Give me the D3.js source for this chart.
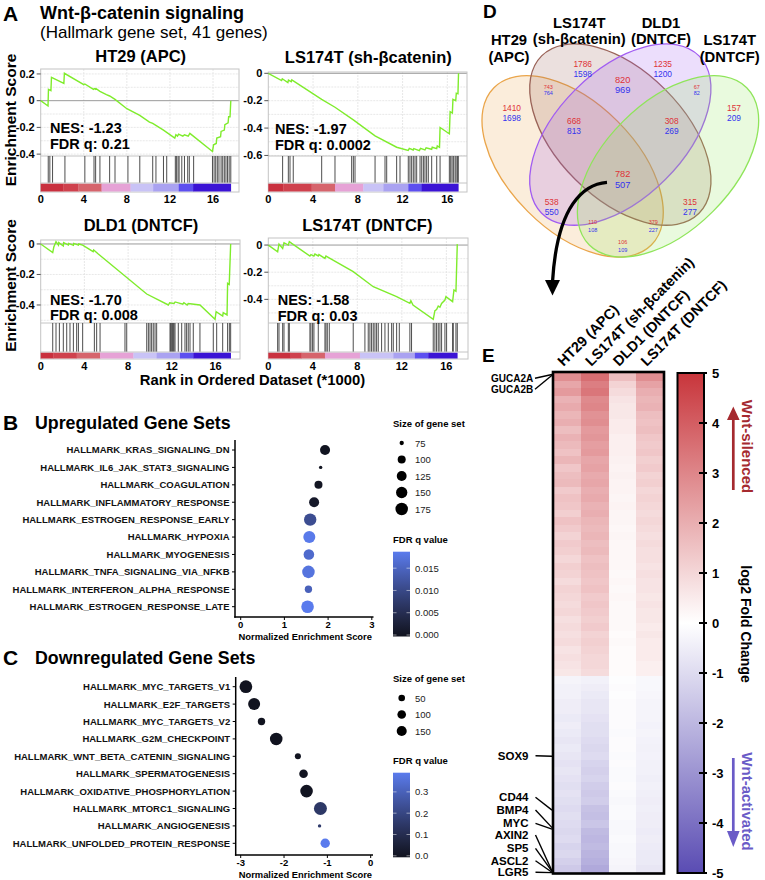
<!DOCTYPE html>
<html><head><meta charset="utf-8">
<script src="https://cdn.jsdelivr.net/npm/d3@7/dist/d3.min.js"></script>
<style>
html,body{margin:0;padding:0;background:#fff;}
svg{display:block;font-family:"Liberation Sans",Arial,Helvetica,sans-serif;}
</style></head><body>
<svg id="fig" width="765" height="880" viewBox="0 0 765 880"></svg>
<script>
// ================= DATA =================
// ---- Panel A : GSEA running enrichment score (rank in thousands, ES) ----
const gseaTitles = ["HT29 (APC)", "LS174T (sh-βcatenin)", "DLD1 (DNTCF)", "LS174T (DNTCF)"];
const gseaNES = ["-1.23", "-1.97", "-1.70", "-1.58"];
const gseaFDR = ["0.21", "0.0002", "0.008", "0.03"];
const rankTicks = [0, 4, 8, 12, 16];
const esTicksHT29 = [0.2, 0, -0.2, -0.4];
const esTicksLSsh = [0, -0.2, -0.4, -0.6];
const esTicksDLD1 = [0, -0.2, -0.4];
const esTicksLSdn = [0, -0.2, -0.4];

const esHT29 = [[0,0],[0.68,-0.04],[0.72,0.085],[0.95,0.075],[1.0,0.175],[2.15,0.13],[2.2,0.205],[4.0,0.12],[4.1,0.125],[4.9,0.085],[5.0,0.09],[5.1,0.085],[5.15,0.09],[5.5,0.07],[6.1,0.045],[6.4,0.035],[6.9,0.01],[8.0,-0.06],[9.2,-0.11],[10.1,-0.16],[10.4,-0.17],[11.4,-0.22],[12.45,-0.28],[12.55,-0.255],[12.7,-0.265],[12.8,-0.25],[13.2,-0.265],[13.35,-0.255],[13.7,-0.265],[13.85,-0.245],[15.95,-0.38],[16.05,-0.33],[16.3,-0.32],[16.35,-0.28],[16.7,-0.27],[16.75,-0.23],[17.05,-0.22],[17.1,-0.18],[17.4,-0.165],[17.45,-0.12],[17.58,-0.12],[17.65,0]];
const esLSsh = [[0,0],[1.19,-0.053],[1.25,-0.04],[1.75,-0.068],[1.8,-0.05],[2.05,-0.061],[2.1,-0.048],[4.77,-0.19],[5.96,-0.248],[7.6,-0.34],[9.54,-0.457],[11.47,-0.54],[12.5,-0.564],[12.6,-0.548],[12.95,-0.56],[13.0,-0.55],[13.5,-0.565],[13.6,-0.548],[14.0,-0.56],[14.1,-0.545],[14.6,-0.555],[14.65,-0.54],[15.05,-0.55],[15.1,-0.53],[15.3,-0.54],[15.35,-0.396],[16.18,-0.442],[16.25,-0.28],[16.45,-0.29],[16.5,-0.19],[16.75,-0.2],[16.8,-0.145],[16.95,-0.15],[17.0,0]];
const esDLD1 = [[0,0],[1.1,-0.057],[1.2,-0.02],[1.4,0.015],[1.62,-0.007],[1.65,0.009],[2.07,-0.013],[2.1,0.009],[2.53,-0.007],[2.56,0.004],[2.99,-0.009],[3.02,0.004],[3.45,-0.007],[3.48,0],[3.84,-0.007],[4.8,-0.05],[4.85,-0.04],[5.27,-0.066],[9.7,-0.328],[11.68,-0.4],[11.8,-0.385],[12.2,-0.39],[12.3,-0.38],[13.0,-0.395],[13.1,-0.385],[13.4,-0.4],[13.5,-0.39],[14.57,-0.4],[15.95,-0.494],[16.05,-0.444],[16.65,-0.472],[16.7,-0.45],[17.05,-0.465],[17.1,-0.258],[17.25,-0.265],[17.38,0]];
const esLSdn = [[0,0],[0.84,-0.049],[0.96,0.007],[1.29,-0.025],[1.41,0.017],[1.8,0],[1.89,0.025],[2.1,0.012],[3.74,-0.081],[3.83,-0.071],[4.1,-0.081],[4.19,-0.066],[4.49,-0.08],[4.55,-0.07],[5.09,-0.098],[5.18,-0.081],[5.54,-0.098],[7.63,-0.196],[9.43,-0.307],[11.53,-0.38],[12.72,-0.429],[12.81,-0.41],[13.0,-0.442],[14.82,-0.547],[14.97,-0.483],[15.12,-0.475],[15.27,-0.449],[15.42,-0.458],[15.57,-0.43],[15.87,-0.405],[15.96,-0.38],[16.56,-0.417],[16.68,-0.33],[16.86,-0.34],[16.98,0.007]];

const hitsHT29 = [0.7,0.85,1.1,2.25,4.1,4.95,5.1,5.5,6.4,6.9,8.1,9.2,10.4,10.7,11.4,11.7,12.5,12.6,12.75,12.85,13.1,13.35,13.65,13.8,14.2,15.95,16.1,16.25,16.4,16.55,16.75,16.9,17.05,17.2,17.35,17.5,17.65];
const hitsLSsh = [1.28,1.79,1.94,2.23,4.77,5.96,7.45,7.6,7.75,9.54,10.43,10.58,11.47,11.77,12.51,12.66,12.81,12.96,13.11,13.26,13.56,13.71,13.86,14.0,14.15,14.3,14.6,15.05,15.35,16.18,16.3,16.42,16.54,16.69,16.78,16.9,16.98];
const hitsDLD1 = [1.1,1.4,1.71,2.07,2.38,2.68,2.99,3.29,3.45,3.84,4.91,5.12,5.43,7.71,7.87,9.7,9.85,10.0,10.15,10.3,10.46,10.61,11.83,11.89,11.98,12.07,12.13,12.2,12.29,12.59,12.9,13.2,13.35,13.5,13.66,13.96,14.57,15.79,16.1,16.65,17.1,17.26,17.38];
const hitsLSdn = [0.84,0.96,1.29,1.41,1.8,1.89,3.74,3.83,3.98,4.1,4.49,5.09,5.18,5.3,5.48,7.63,8.68,8.98,9.13,9.28,9.43,9.58,9.73,9.88,10.18,10.48,10.78,11.08,11.23,11.53,11.77,12.72,12.87,14.82,14.97,15.12,15.27,15.42,15.57,15.87,16.02,16.56,16.62,16.86,16.98];

// ranked-list colour bar block edges (thousands)
const barEdgesHT29 = [0,2.1,3.49,5.65,8.34,10.44,12.82,14.15,17.65];
const barEdgesLSsh = [0,1.34,3.87,5.96,8.49,10.28,12.51,13.71,16.98];
const barEdgesDLD1 = [0,1.16,3.29,5.43,8.48,10.61,12.74,13.96,17.38];
const barEdgesLSdn = [0,1.95,2.99,5.09,8.23,11.23,13.17,14.37,16.98];
const barColors = ["#c9303e","#cf414d","#d6646c","#e6a2d6","#c9c3f6","#aaa2f1","#5d4ff0","#3b13d5"];

// ---- Panel B : upregulated gene sets ----
const upSets = ["HALLMARK_KRAS_SIGNALING_DN","HALLMARK_IL6_JAK_STAT3_SIGNALING","HALLMARK_COAGULATION","HALLMARK_INFLAMMATORY_RESPONSE","HALLMARK_ESTROGEN_RESPONSE_EARLY","HALLMARK_HYPOXIA","HALLMARK_MYOGENESIS","HALLMARK_TNFA_SIGNALING_VIA_NFKB","HALLMARK_INTERFERON_ALPHA_RESPONSE","HALLMARK_ESTROGEN_RESPONSE_LATE"];
const upNES = [1.93,1.83,1.78,1.68,1.59,1.57,1.56,1.55,1.55,1.53];
const upSize = [127,74,100,127,172,164,137,175,93,177];
const upFDR = [0.0001,0.0003,0.0005,0.0012,0.011,0.0185,0.016,0.0175,0.0145,0.0187];
const upXTicks = [0,1,2,3];
const upSizeBreaks = [75,100,125,150,175];
const upFdrBreaks = [0.000,0.005,0.010,0.015];

// ---- Panel C : downregulated gene sets ----
const downSets = ["HALLMARK_MYC_TARGETS_V1","HALLMARK_E2F_TARGETS","HALLMARK_MYC_TARGETS_V2","HALLMARK_G2M_CHECKPOINT","HALLMARK_WNT_BETA_CATENIN_SIGNALING","HALLMARK_SPERMATOGENESIS","HALLMARK_OXIDATIVE_PHOSPHORYLATION","HALLMARK_MTORC1_SIGNALING","HALLMARK_ANGIOGENESIS","HALLMARK_UNFOLDED_PROTEIN_RESPONSE"];
const downNES = [-2.88,-2.69,-2.52,-2.18,-1.68,-1.55,-1.48,-1.16,-1.18,-1.05];
const downSize = [275,237,67,265,41,99,270,290,20,125];
const downFDR = [0,0,0.0005,0,0.002,0.004,0.004,0.15,0.16,0.39];
const downXTicks = [-3,-2,-1,0];
const downSizeBreaks = [50,100,150];
const downFdrBreaks = [0.0,0.1,0.2,0.3];

// ---- Panel D : Venn ----
const vennSetNames = [["HT29","(APC)"],["LS174T","(sh-βcatenin)"],["DLD1","(DNTCF)"],["LS174T","(DNTCF)"]];
const vennRed  = [1410,1786,1235,157,743,67,820,668,308,782,538,315,110,379,106];
const vennBlue = [1698,1598,1200,209,764,82,969,813,269,507,550,277,108,227,109];

// ---- Panel E : heatmap (log2 fold change, bands of genes top->bottom) ----
const heatCols = ["HT29 (APC)","LS174T (sh-βcatenin)","DLD1 (DNTCF)","LS174T (DNTCF)"];
const nSilenced = 782, nActivated = 507;
const heatUp = [
 [2.8,2.2,2.5,1.9,2.1,1.8,2.0,1.6,1.9,1.7,1.5,1.8,1.4,1.6,1.7,1.3,1.5,1.4,1.2,1.5,1.3,1.1,1.3,1.2,1.0,1.2,1.1,0.9,1.1,1.0,0.9,1.0,0.8,0.9,0.8,0.9,0.7,0.8,0.7,0.6],
 [3.6,3.2,3.4,2.9,3.0,2.7,2.8,2.5,2.6,2.4,2.5,2.2,2.3,2.1,2.2,2.0,2.1,1.9,2.0,1.8,1.7,1.8,1.6,1.7,1.5,1.6,1.5,1.4,1.5,1.3,1.4,1.3,1.2,1.3,1.1,1.2,1.1,1.0,1.0,0.9],
 [1.6,1.1,0.9,0.7,0.6,0.6,0.5,0.5,0.4,0.4,0.4,0.35,0.3,0.35,0.3,0.3,0.25,0.3,0.25,0.25,0.2,0.25,0.2,0.2,0.2,0.2,0.15,0.2,0.15,0.2,0.15,0.15,0.15,0.15,0.1,0.15,0.1,0.1,0.1,0.1],
 [2.8,2.3,2.0,1.8,1.9,1.6,1.5,1.6,1.4,1.3,1.4,1.2,1.3,1.1,1.2,1.0,1.1,1.0,0.9,1.0,0.9,0.8,0.9,0.8,0.8,0.7,0.8,0.7,0.7,0.6,0.7,0.6,0.6,0.5,0.6,0.5,0.5,0.5,0.4,0.4]
];
const heatDown = [
 [-0.3,-0.4,-0.4,-0.5,-0.5,-0.6,-0.5,-0.6,-0.7,-0.6,-0.7,-0.8,-0.7,-0.8,-0.9,-0.8,-0.9,-1.0,-0.9,-1.0,-1.1,-1.0,-1.2,-1.1,-1.3,-1.5],
 [-0.4,-0.5,-0.6,-0.7,-0.7,-0.8,-0.9,-0.9,-1.0,-1.1,-1.0,-1.2,-1.3,-1.2,-1.4,-1.5,-1.4,-1.7,-1.8,-1.6,-1.9,-2.0,-1.9,-2.1,-2.2,-2.4],
 [-0.05,-0.1,-0.05,-0.1,-0.1,-0.1,-0.1,-0.15,-0.1,-0.1,-0.15,-0.1,-0.15,-0.15,-0.1,-0.15,-0.2,-0.15,-0.15,-0.2,-0.2,-0.15,-0.2,-0.2,-0.25,-0.3],
 [-0.2,-0.2,-0.25,-0.3,-0.3,-0.3,-0.35,-0.3,-0.35,-0.4,-0.35,-0.4,-0.4,-0.45,-0.4,-0.45,-0.5,-0.45,-0.5,-0.5,-0.55,-0.5,-0.55,-0.6,-0.6,-0.7]
];
const heatTicks = [5,4,3,2,1,0,-1,-2,-3,-4,-5];
const markedGenes = ["GUCA2A","GUCA2B","SOX9","CD44","BMP4","MYC","AXIN2","SP5","ASCL2","LGR5"];
const markedRows  = [4,6,988,1127,1172,1176,1284,1285,1287,1288];

// ================= DRAWING =================
const svg = d3.select("#fig");
function T(parent, x, y, str, size, weight, anchor, fill) {
  return parent.append("text").attr("x", x).attr("y", y)
    .attr("font-size", size).attr("font-weight", weight || "normal")
    .attr("text-anchor", anchor || "start").attr("fill", fill || "#000").text(str);
}

// ---------- Panel A ----------
const A = svg.append("g");
T(A, 3, 21, "A", 21, "bold");
T(A, 40, 19, "Wnt-β-catenin signaling", 18, "bold");
T(A, 40, 38, "(Hallmark gene set, 41 genes)", 17, "normal");
[[120],[285.5]].forEach(([cy]) => {
  A.append("text").attr("transform", `translate(16,${cy}) rotate(-90)`)
    .attr("text-anchor","middle").attr("font-size",15.5).attr("font-weight","bold").text("Enrichment Score");
});
T(A, 252.5, 385, "Rank in Ordered Dataset (*1000)", 14.8, "bold", "middle");

const gseaLayouts = [
 {x0:40.7, x1:239, pxK:10.77, esTop:69, esBot:156, yTopVal:0.237, yBotVal:-0.414, hitBot:183, barBot:192, tickY:203, titleX:140.7, titleY:62, nesX:50, nesY:133, fdrY:149},
 {x0:268.3, x1:467, pxK:11.19, esTop:72, esBot:156, yTopVal:0.0095, yBotVal:-0.604, hitBot:183, barBot:192, tickY:203, titleX:368.3, titleY:63, nesX:275, nesY:134, fdrY:150},
 {x0:40.7, x1:240, pxK:10.93, esTop:240, esBot:323, yTopVal:0.026, yBotVal:-0.518, hitBot:352, barBot:359, tickY:370, titleX:141, titleY:231, nesX:50, nesY:305, fdrY:320},
 {x0:268.3, x1:468, pxK:11.13, esTop:238, esBot:323, yTopVal:0.052, yBotVal:-0.574, hitBot:352, barBot:359, tickY:370, titleX:367.3, titleY:231, nesX:277.7, nesY:305, fdrY:321}
];
const gseaData = [
 {curve:esHT29, hits:hitsHT29, edges:barEdgesHT29, ticks:esTicksHT29},
 {curve:esLSsh, hits:hitsLSsh, edges:barEdgesLSsh, ticks:esTicksLSsh},
 {curve:esDLD1, hits:hitsDLD1, edges:barEdgesDLD1, ticks:esTicksDLD1},
 {curve:esLSdn, hits:hitsLSdn, edges:barEdgesLSdn, ticks:esTicksLSdn}
];
gseaData.forEach((d, i) => {
  const L = gseaLayouts[i];
  const g = A.append("g");
  const x = d3.scaleLinear().domain([0, (L.x1 - L.x0) / L.pxK]).range([L.x0, L.x1]);
  const y = d3.scaleLinear().domain([L.yBotVal, L.yTopVal]).range([L.esBot, L.esTop]);
  const hg = d3.range(Math.ceil(L.yBotVal*10), Math.floor(L.yTopVal*10)+1).map(v => v/10).filter(v => v !== 0);
  g.selectAll(".hg").data(hg).join("line").attr("x1", L.x0).attr("x2", L.x1)
    .attr("y1", v => y(v)).attr("y2", v => y(v)).attr("stroke", "#e2e2e2").attr("stroke-width", 0.8).attr("stroke-dasharray","2,1");
  g.selectAll(".vg").data(rankTicks.slice(1)).join("line").attr("y1", L.esTop).attr("y2", L.esBot)
    .attr("x1", v => x(v)).attr("x2", v => x(v)).attr("stroke", "#e2e2e2").attr("stroke-width", 0.8).attr("stroke-dasharray","2,1");
  g.append("line").attr("x1", L.x0).attr("x2", L.x1).attr("y1", y(0)).attr("y2", y(0)).attr("stroke", "#9a9a9a").attr("stroke-width", 1);
  g.append("rect").attr("x", L.x0).attr("y", L.esTop).attr("width", L.x1 - L.x0).attr("height", L.barBot - L.esTop)
    .attr("fill", "none").attr("stroke", "#c4c4c4").attr("stroke-width", 1);
  g.append("line").attr("x1", L.x0).attr("x2", L.x1).attr("y1", L.esBot).attr("y2", L.esBot).attr("stroke", "#c4c4c4");
  g.selectAll(".hit").data(d.hits).join("line")
    .attr("x1", v => x(v)).attr("x2", v => x(v)).attr("y1", L.esBot).attr("y2", L.hitBot)
    .attr("stroke", "#3a3a3a").attr("stroke-width", 0.9);
  const blocks = d.edges.slice(0, -1).map((e, k) => [e, d.edges[k+1], barColors[k]]);
  g.selectAll(".blk").data(blocks).join("rect")
    .attr("x", b => x(b[0])).attr("width", b => x(b[1]) - x(b[0]) + 0.3)
    .attr("y", L.hitBot + 0.5).attr("height", L.barBot - L.hitBot - 1).attr("fill", b => b[2]);
  g.append("line").attr("x1", L.x0).attr("x2", L.x1).attr("y1", L.hitBot).attr("y2", L.hitBot).attr("stroke", "#c4c4c4");
  g.append("path").datum(d.curve)
    .attr("d", d3.line().x(p => x(p[0])).y(p => y(p[1])))
    .attr("fill", "none").attr("stroke", "#7fec2c").attr("stroke-width", 1.4);
  g.selectAll(".yt").data(d.ticks).join("line").attr("x1", L.x0 - 4).attr("x2", L.x0)
    .attr("y1", v => y(v)).attr("y2", v => y(v)).attr("stroke", "#555");
  g.selectAll(".yl").data(d.ticks).join("text").attr("x", L.x0 - 6).attr("y", v => y(v) + 3.8)
    .attr("text-anchor", "end").attr("font-size", 11).attr("font-weight", "bold")
    .text(v => v === 0 ? "0" : v.toFixed(1));
  g.selectAll(".xl").data(rankTicks).join("text").attr("x", v => x(v)).attr("y", L.tickY)
    .attr("text-anchor", "middle").attr("font-size", 11).attr("font-weight", "bold").text(v => v);
  T(g, L.titleX, L.titleY, gseaTitles[i], 16.5, "bold", "middle");
  T(g, L.nesX, L.nesY, "NES: " + gseaNES[i], 14.5, "bold");
  T(g, L.nesX, L.fdrY, "FDR q: " + gseaFDR[i], 14.5, "bold");
});

// ---------- Panels B & C ----------
function dotPanel(cfg) {
  const g = svg.append("g");
  T(g, 3, cfg.titleY + 1, cfg.letter, 21, "bold");
  T(g, 35, cfg.titleY, cfg.title, 17.8, "bold");
  const x = d3.scaleLinear().domain(cfg.xDom).range(cfg.xRange);
  const y = d3.scalePoint().domain(cfg.sets).range([cfg.row0, cfg.rowN]);
  const fdrMax = cfg.fdrMax;
  const col = d3.scaleLinear().domain([0, fdrMax]).range(["#11131f", "#5a7bed"]).interpolate(d3.interpolateLab);
  const nMin = d3.min(cfg.size), nMax = d3.max(cfg.size);
  const rLin = d3.scaleLinear().domain([0, 1]).range(cfg.rRange);
  const r = n => rLin(Math.sqrt(Math.max(0, (n - nMin) / (nMax - nMin))));
  g.append("line").attr("x1", cfg.axisX).attr("x2", cfg.axisX).attr("y1", cfg.axisTop).attr("y2", cfg.axisY + 0.75).attr("stroke", "#000").attr("stroke-width", 1.5);
  g.append("line").attr("x1", cfg.axisX - 0.75).attr("x2", cfg.axisRight).attr("y1", cfg.axisY).attr("y2", cfg.axisY).attr("stroke", "#000").attr("stroke-width", 1.5);
  g.selectAll(".yt").data(cfg.sets).join("line").attr("x1", cfg.axisX - 3).attr("x2", cfg.axisX)
    .attr("y1", s => y(s)).attr("y2", s => y(s)).attr("stroke", "#000").attr("stroke-width", 1);
  g.selectAll(".yl").data(cfg.sets).join("text").attr("x", cfg.axisX - 5.5).attr("y", s => y(s) + 3.4)
    .attr("text-anchor", "end").attr("font-size", 9.5).attr("font-weight", "bold").attr("fill", "#111").text(s => s);
  g.selectAll(".xt").data(cfg.xTicks).join("line").attr("x1", v => x(v)).attr("x2", v => x(v))
    .attr("y1", cfg.axisY).attr("y2", cfg.axisY + 3).attr("stroke", "#000").attr("stroke-width", 1);
  g.selectAll(".xl").data(cfg.xTicks).join("text").attr("x", v => x(v)).attr("y", cfg.axisY + 11)
    .attr("text-anchor", "middle").attr("font-size", 9.5).attr("font-weight", "bold").text(v => v);
  T(g, (cfg.axisX + cfg.axisRight) / 2 + 1, cfg.axisY + 22.5, "Normalized Enrichment Score", 9.4, "bold", "middle");
  const pts = cfg.sets.map((s, k) => ({s, nes: cfg.nes[k], n: cfg.size[k], q: cfg.fdr[k]}));
  g.selectAll(".dot").data(pts).join("circle").attr("cx", p => x(p.nes)).attr("cy", p => y(p.s))
    .attr("r", p => r(p.n)).attr("fill", p => col(p.q));
  const lx = 393;
  T(g, lx, cfg.sizeTitleY, "Size of gene set", 9.5, "bold");
  g.selectAll(".sl").data(cfg.sizeBreaks).join("circle").attr("cx", lx + 8.7).attr("cy", (v, k) => cfg.sizeTitleY + 16 + k * 16.5)
    .attr("r", v => r(v)).attr("fill", "#000");
  g.selectAll(".slt").data(cfg.sizeBreaks).join("text").attr("x", lx + 22).attr("y", (v, k) => cfg.sizeTitleY + 19.5 + k * 16.5)
    .attr("font-size", 9.5).attr("fill", "#222").text(v => v);
  T(g, lx, cfg.fdrTitleY, "FDR q value", 9.5, "bold");
  const gid = "grad" + cfg.letter;
  const defs = g.append("defs");
  const lg = defs.append("linearGradient").attr("id", gid).attr("x1", 0).attr("x2", 0).attr("y1", 1).attr("y2", 0);
  d3.range(0, 1.0001, 0.1).forEach(t => lg.append("stop").attr("offset", t).attr("stop-color", col(t * fdrMax)));
  const cy = d3.scaleLinear().domain([0, fdrMax]).range([cfg.barBot, cfg.barTop]);
  g.append("rect").attr("x", lx).attr("y", cfg.barTop).attr("width", 17).attr("height", cfg.barBot - cfg.barTop + 1.5).attr("fill", `url(#${gid})`);
  g.selectAll(".ft").data(cfg.fdrBreaks).join("g").each(function(v) {
    const s = d3.select(this);
    s.append("line").attr("x1", lx).attr("x2", lx + 3.5).attr("y1", cy(v)).attr("y2", cy(v)).attr("stroke", "#fff").attr("stroke-opacity", 0.5);
    s.append("line").attr("x1", lx + 13.5).attr("x2", lx + 17).attr("y1", cy(v)).attr("y2", cy(v)).attr("stroke", "#fff").attr("stroke-opacity", 0.5);
    s.append("text").attr("x", lx + 22).attr("y", cy(v) + 3.4).attr("font-size", 9.5).attr("fill", "#222").text(cfg.fmt(v));
  });
}
dotPanel({letter:"B", title:"Upregulated Gene Sets", titleY:429, sets:upSets, nes:upNES, size:upSize, fdr:upFDR,
  xDom:[0,3], xRange:[240.7,371.8], xTicks:upXTicks, axisX:235, axisTop:440, axisY:617, axisRight:373.5,
  row0:450, rowN:606.7, rRange:[1.7,6.3], fdrMax:0.0187, sizeBreaks:upSizeBreaks, fdrBreaks:upFdrBreaks,
  sizeTitleY:427, fdrTitleY:543, barTop:551.7, barBot:635, fmt:d3.format(".3f")});
dotPanel({letter:"C", title:"Downregulated Gene Sets", titleY:664, sets:downSets, nes:downNES, size:downSize, fdr:downFDR,
  xDom:[-3,0], xRange:[240.7,370.7], xTicks:downXTicks, axisX:235.7, axisTop:677, axisY:855, axisRight:373,
  row0:686.7, rowN:843.3, rRange:[1.7,6.5], fdrMax:0.39, sizeBreaks:downSizeBreaks, fdrBreaks:downFdrBreaks,
  sizeTitleY:682, fdrTitleY:764, barTop:772.7, barBot:855.8, fmt:d3.format(".1f")});

// ---------- Panel D : Venn ----------
const D = svg.append("g");
T(D, 483, 18, "D", 19, "bold");
const vu = d3.scaleLinear().domain([0.065, 0.935]).range([482, 482 + 0.87 * 318]);
const vv = d3.scaleLinear().domain([0.185, 0.855]).range([257, 257 - 0.67 * 318]);
const ellipses = [
  {cx:0.35, cy:0.47, rot:45, col:"#eaa54a"},
  {cx:0.50, cy:0.57, rot:45, col:"#9a6358"},
  {cx:0.50, cy:0.57, rot:-45, col:"#a15cf2"},
  {cx:0.65, cy:0.47, rot:-45, col:"#8fe55a"}
];
D.selectAll(".ell").data(ellipses).join("ellipse")
  .attr("transform", e => `translate(${vu(e.cx)},${vv(e.cy)}) rotate(${e.rot})`)
  .attr("rx", 0.35 * 318).attr("ry", 0.2 * 318)
  .attr("fill", e => e.col).attr("fill-opacity", 0.2).attr("stroke", e => e.col).attr("stroke-width", 1.3);
const vennLabelPos = [[509,45,61.7],[579.3,28.3,43.5],[661,28.3,43.5],[729.7,45,61.7]];
vennSetNames.forEach((nm, k) => {
  const p = vennLabelPos[k];
  T(D, p[0], p[1], nm[0], 14.8, "bold", "middle");
  T(D, p[0], p[2], nm[1], 14.8, "bold", "middle");
});
// region label positions: x, red centre y, blue centre y, font size
const vennRegionPos = [
  [511.7,107.6,117.8,8.4],[582.7,64.3,73.9,8.4],[662.7,64.3,73.9,8.4],[734,107.6,117.8,8.4],
  [548.3,87.2,93.5,5.5],[696.7,87.2,93.5,5.5],[622.7,79.2,90.1,9.3],[574,121.4,131.2,8.4],
  [671.7,121.4,131.2,8.4],[622.7,173.5,184.2,9.3],[551.7,201.8,212,8.4],[690,201.8,212,8.4],
  [592.7,222.2,229.8,5.5],[653.3,222.2,229.8,5.5],[622.7,242.2,249.8,5.5]
];
vennRed.forEach((v, k) => {
  const p = vennRegionPos[k];
  T(D, p[0], p[1] + p[3] * 0.36, v, p[3], "normal", "middle", "#de3338");
  T(D, p[0], p[2] + p[3] * 0.36, vennBlue[k], p[3], "normal", "middle", "#3434ee");
});
D.append("path").attr("d", "M607,182.3 C584,184 557,205 552.5,282").attr("fill", "none")
  .attr("stroke", "#000").attr("stroke-width", 3.3);
D.append("path").attr("d", "M545,280 L560,280 L552.5,295.5 Z").attr("fill", "#000");

// ---------- Panel E : heatmap ----------
const E = svg.append("g");
T(E, 482, 362, "E", 19, "bold");
const hmX = d3.scaleBand().domain(heatCols).range([553, 664]);
const nRows = nSilenced + nActivated;
const hmY = d3.scaleLinear().domain([0, nRows]).range([373, 873]);
const heatColor = d3.scaleLinear().domain([-5, 0, 5]).range(["#5a4cb3", "#ffffff", "#c8353b"]);
const cells = [];
heatCols.forEach((c, ci) => {
  const up = heatUp[ci], dn = heatDown[ci];
  up.forEach((v, k) => cells.push({c, r0: k * nSilenced / up.length, r1: (k + 1) * nSilenced / up.length, v}));
  dn.forEach((v, k) => cells.push({c, r0: nSilenced + k * nActivated / dn.length, r1: nSilenced + (k + 1) * nActivated / dn.length, v}));
});
E.selectAll(".cell").data(cells).join("rect")
  .attr("x", d => hmX(d.c)).attr("width", hmX.bandwidth() + 0.3)
  .attr("y", d => hmY(d.r0)).attr("height", d => hmY(d.r1) - hmY(d.r0) + 0.3)
  .attr("fill", d => heatColor(d.v)).attr("shape-rendering", "crispEdges");
E.append("rect").attr("x", 553).attr("y", 372).attr("width", 111).attr("height", 501.5)
  .attr("fill", "none").attr("stroke", "#000").attr("stroke-width", 2.6);
heatCols.forEach(c => {
  E.append("text").attr("transform", `translate(${hmX(c) + hmX.bandwidth() / 2 - 3.5},367) rotate(-45)`)
    .attr("font-size", 14.5).attr("font-weight", "bold").text(c);
});
const geneLabelY = [378.3,389.3,755.7,797.3,810,823.3,835,848.3,860.7,872.3];
markedGenes.forEach((gname, k) => {
  const small = k < 2;
  T(E, small ? 533.3 : 528.5, geneLabelY[k] + (small ? 3.5 : 4), gname, small ? 10 : 11.5, "bold", "end");
  E.append("line").attr("x1", small ? 535 : 535.5).attr("y1", geneLabelY[k]).attr("x2", 552).attr("y2", hmY(markedRows[k]))
    .attr("stroke", "#000").attr("stroke-width", 1.4);
});
const cbY = d3.scaleLinear().domain([-5, 5]).range([873, 373]);
const defsE = E.append("defs");
const lgE = defsE.append("linearGradient").attr("id", "gradE").attr("x1", 0).attr("x2", 0).attr("y1", 1).attr("y2", 0);
[-5, 0, 5].forEach(v => lgE.append("stop").attr("offset", (v + 5) / 10).attr("stop-color", heatColor(v)));
E.append("rect").attr("x", 677.5).attr("y", 373).attr("width", 26.5).attr("height", 500)
  .attr("fill", "url(#gradE)").attr("stroke", "#000").attr("stroke-width", 2);
E.selectAll(".ct").data(heatTicks).join("line").attr("x1", 699).attr("x2", 707)
  .attr("y1", v => cbY(v)).attr("y2", v => cbY(v)).attr("stroke", "#000").attr("stroke-width", 2);
E.selectAll(".ctl").data(heatTicks).join("text").attr("x", 712).attr("y", v => cbY(v) + 4.6)
  .attr("font-size", 13).attr("font-weight", "bold").text(v => v);
E.append("text").attr("transform", "translate(740.5,624) rotate(90)").attr("text-anchor", "middle")
  .attr("font-size", 14).attr("font-weight", "bold").text("log2 Fold Change");
E.append("text").attr("transform", "translate(741.5,446.5) rotate(90)").attr("text-anchor", "middle")
  .attr("font-size", 15).attr("font-weight", "bold").attr("fill", "#a52a2f").text("Wnt-silenced");
E.append("text").attr("transform", "translate(741.5,801.5) rotate(90)").attr("text-anchor", "middle")
  .attr("font-size", 15).attr("font-weight", "bold").attr("fill", "#6a5bc7").text("Wnt-activated");
E.append("line").attr("x1", 733.3).attr("x2", 733.3).attr("y1", 490).attr("y2", 418).attr("stroke", "#a52a2f").attr("stroke-width", 2.7);
E.append("path").attr("d", "M727,420 L739.6,420 L733.3,406.5 Z").attr("fill", "#a52a2f");
E.append("line").attr("x1", 733.3).attr("x2", 733.3).attr("y1", 758).attr("y2", 833).attr("stroke", "#6a5bc7").attr("stroke-width", 2.7);
E.append("path").attr("d", "M727,831 L739.6,831 L733.3,847 Z").attr("fill", "#6a5bc7");
</script>
</body></html>
